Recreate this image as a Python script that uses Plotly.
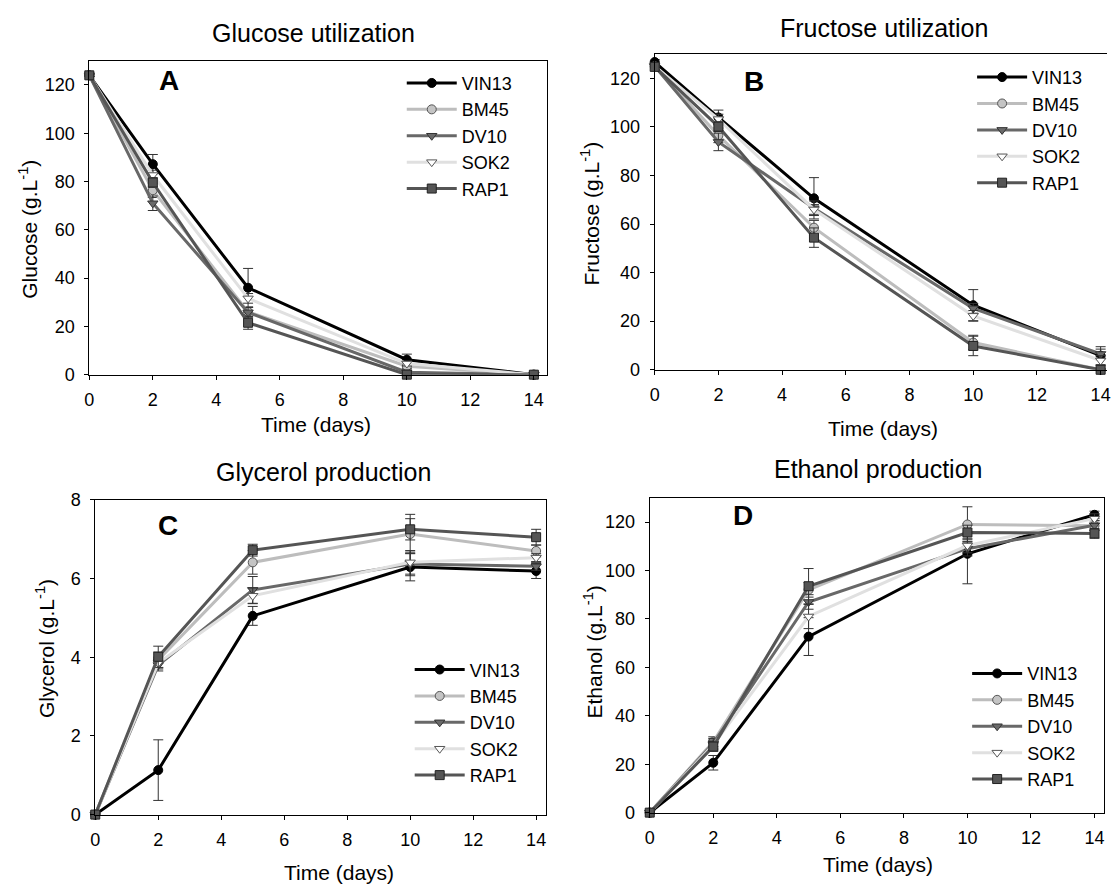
import plotly.graph_objects as go

W, H = 1111, 894

days = [0, 2, 5, 10, 14]
strains = ["VIN13", "BM45", "DV10", "SOK2", "RAP1"]

glucose = {
    "VIN13": [124, 87.2, 36.0, 6.2, 0],
    "BM45": [124, 76.4, 26.0, 3.5, 0],
    "DV10": [124, 71.0, 25.8, 1.0, 0],
    "SOK2": [124, 82.7, 31.6, 4.6, 0],
    "RAP1": [124, 79.6, 21.5, 0, 0],
}
glucose_err = {
    "VIN13": [0.5, 4, 8, 2.3, 0.3],
    "BM45": [0.5, 3, 2, 1, 0.2],
    "DV10": [0.5, 3, 2, 0.5, 0.2],
    "SOK2": [0.5, 2, 2, 1, 0.2],
    "RAP1": [0.5, 2, 2.7, 0.3, 0.2],
}
fructose = {
    "VIN13": [126.7, 103.9, 70.6, 26.6, 5.8],
    "BM45": [125, 96.5, 58.5, 11.2, 0],
    "DV10": [125, 93.8, 66.5, 25.3, 6.5],
    "SOK2": [125, 103.2, 66.0, 22.2, 3.8],
    "RAP1": [124.7, 100.1, 54.4, 9.8, 0],
}
fructose_err = {
    "VIN13": [1, 3, 8.5, 6.4, 3.7],
    "BM45": [1, 3, 3, 3, 0.3],
    "DV10": [1, 3.6, 3, 2, 2],
    "SOK2": [1, 2, 2, 2.2, 2],
    "RAP1": [1, 2, 4, 4, 0.3],
}
glycerol = {
    "VIN13": [0, 1.13, 5.05, 6.29, 6.19],
    "BM45": [0, 3.93, 6.41, 7.13, 6.70],
    "DV10": [0, 3.80, 5.71, 6.37, 6.31],
    "SOK2": [0, 3.85, 5.56, 6.41, 6.53],
    "RAP1": [0, 4.01, 6.72, 7.25, 7.05],
}
glycerol_err = {
    "VIN13": [0.02, 0.77, 0.24, 0.35, 0.19],
    "BM45": [0.02, 0.2, 0.3, 0.5, 0.15],
    "DV10": [0.02, 0.15, 0.34, 0.3, 0.1],
    "SOK2": [0.02, 0.15, 0.2, 0.3, 0.1],
    "RAP1": [0.02, 0.27, 0.15, 0.27, 0.2],
}
ethanol = {
    "VIN13": [0, 20.6, 72.7, 106.9, 123.0],
    "BM45": [0, 29.3, 92.0, 119.0, 118.5],
    "DV10": [0, 28.6, 87.0, 109.0, 118.7],
    "SOK2": [0, 28.0, 81.0, 110.3, 121.4],
    "RAP1": [0, 27.3, 93.5, 115.7, 115.3],
}
ethanol_err = {
    "VIN13": [0.5, 3, 7.8, 12.4, 1.5],
    "BM45": [0.5, 2, 3, 7.3, 2],
    "DV10": [0.5, 2, 3, 3, 2],
    "SOK2": [0.5, 2, 5, 3, 2],
    "RAP1": [0.5, 2, 7.3, 3, 2],
}

x_ticks = [0, 2, 4, 6, 8, 10, 12, 14]
titles = ["Glucose utilization", "Fructose utilization", "Glycerol production", "Ethanol production"]
ytitles = ["Glucose (g.L<sup>-1</sup>)", "Fructose (g.L<sup>-1</sup>)",
           "Glycerol (g.L<sup>-1</sup>)", "Ethanol (g.L<sup>-1</sup>)"]
letters = ["A", "B", "C", "D"]

style = {
    "VIN13": dict(line="#000000", sym="circle", fill="#000000", edge="#000000"),
    "BM45": dict(line="#bdbdbd", sym="circle", fill="#c4c4c4", edge="#555555"),
    "DV10": dict(line="#686868", sym="triangle-down", fill="#6a6a6a", edge="#333333"),
    "SOK2": dict(line="#e0e0e0", sym="triangle-down", fill="#ffffff", edge="#555555"),
    "RAP1": dict(line="#555555", sym="square", fill="#555555", edge="#222222"),
}

FONT = "Liberation Sans, Arial, sans-serif"

panels = [
    dict(px=(85, 546, 52, 373), xmax=14.4, ymax=130, dt=20, mirror_y=True,
         data=glucose, err=glucose_err,
         title=(311, 24), letter=(165, 72), xt=(314, 424), yt=(23, 224),
         leg=(400, 56)),
    dict(px=(655, 1111, 45, 368), xmax=14.2, ymax=130, dt=20, mirror_y=False,
         data=fructose, err=fructose_err,
         title=(886, 18), letter=(755, 73), xt=(885, 428), yt=(590, 208),
         leg=(975, 50)),
    dict(px=(91, 545, 501, 823), xmax=14.3, ymax=8, dt=2, mirror_y=True,
         data=glycerol, err=glycerol_err,
         title=(321, 473), letter=(164, 527), xt=(337, 882), yt=(41, 653),
         leg=(408, 656)),
    dict(px=(650, 1108, 499, 821), xmax=14.3, ymax=130, dt=20, mirror_y=True,
         data=ethanol, err=ethanol_err,
         title=(880, 470), letter=(744, 517), xt=(880, 874), yt=(593, 657),
         leg=(970, 660)),
]

fig = go.Figure()
annotations = []
layout = {}

for i, p in enumerate(panels):
    n = "" if i == 0 else str(i + 1)
    x0, x1, y0, y1 = p["px"]
    legname = "legend" + n
    for s in strains:
        st = style[s]
        fig.add_trace(go.Scatter(
            x=days, y=p["data"][s], name=s, mode="lines+markers",
            xaxis="x" + n, yaxis="y" + n, legend=legname,
            line=dict(color=st["line"], width=3),
            marker=dict(symbol=st["sym"], size=9, color=st["fill"],
                        line=dict(color=st["edge"], width=1)),
            error_y=dict(type="data", array=p["err"][s], color="#333333",
                         thickness=1, width=5),
            cliponaxis=False,
        ))
    common = dict(showline=True, linecolor="#000000", linewidth=1, ticks="outside",
                  ticklen=4, tickcolor="#000000", showgrid=False, zeroline=False,
                  ticklabeloverflow="allow",
                  tickfont=dict(family=FONT, size=18, color="#000000"))
    layout["xaxis" + n] = dict(domain=[x0 / W, x1 / W], range=[0, p["xmax"]],
                               tickvals=x_ticks, mirror=True, anchor="y" + n,
                               ticklabelstandoff=5, **common)
    layout["yaxis" + n] = dict(domain=[1 - y1 / H, 1 - y0 / H], range=[0, p["ymax"]],
                               dtick=p["dt"], tick0=0, mirror=p["mirror_y"],
                               anchor="x" + n, ticklabelstandoff=6, **common)
    layout[legname] = dict(x=p["leg"][0] / W, y=1 - p["leg"][1] / H, xanchor="left",
                           yanchor="top", bgcolor="rgba(0,0,0,0)", itemwidth=50,
                           font=dict(family=FONT, size=18, color="#000000"),
                           tracegroupgap=0)

    def ann(text, pos, size, bold=False, angle=0):
        annotations.append(dict(
            text=("<b>%s</b>" % text) if bold else text,
            x=pos[0] / W, y=1 - pos[1] / H, xref="paper", yref="paper",
            xanchor="center", yanchor="middle", showarrow=False, textangle=angle,
            font=dict(family=FONT, size=size, color="#000000")))

    ann(titles[i], p["title"], 25)
    ann(letters[i], p["letter"], 28, bold=True)
    ann("Time (days)", p["xt"], 21)
    ann(ytitles[i], p["yt"], 21, angle=-90)

fig.update_layout(width=W, height=H, margin=dict(l=0, r=0, t=0, b=0),
                  paper_bgcolor="#ffffff", plot_bgcolor="#ffffff",
                  annotations=annotations, showlegend=True, **layout)

fig.write_html("out.html")
